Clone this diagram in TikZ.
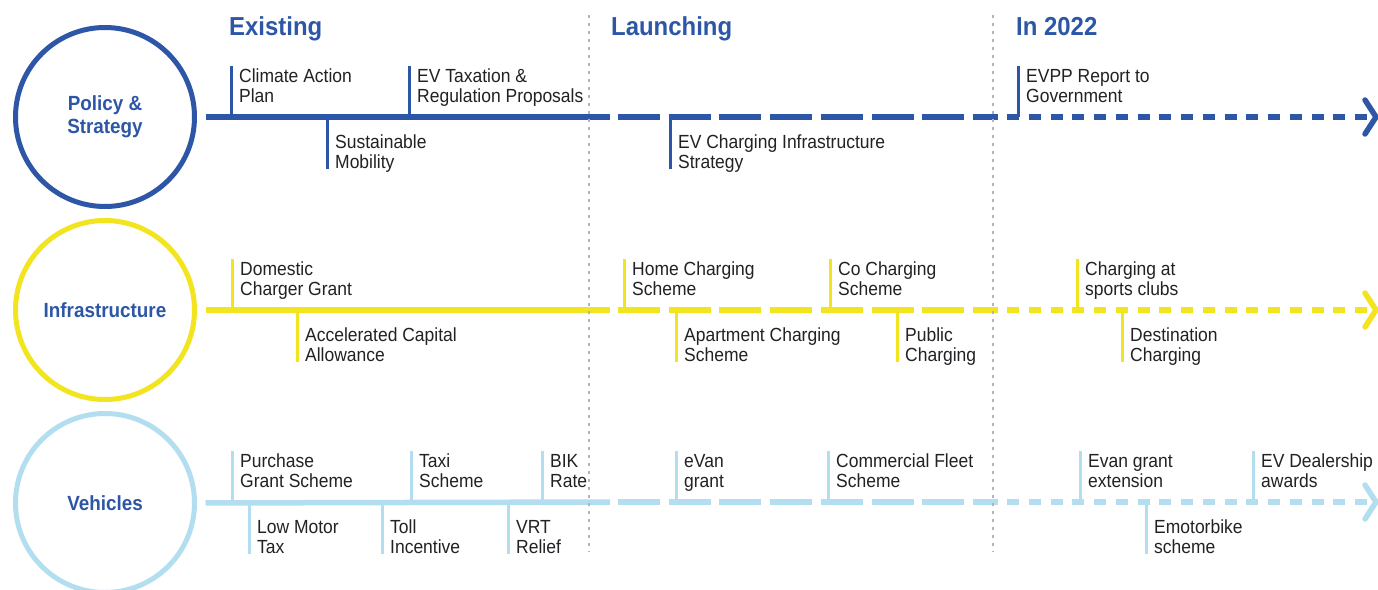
\documentclass[tikz,border=0pt]{standalone}
\usepackage{fontspec}
\setmainfont{Liberation Sans}[FakeStretch=0.92]
\definecolor{polblue}{RGB}{45,87,166}
\definecolor{infyel}{RGB}{242,228,30}
\definecolor{vehblue}{RGB}{179,222,240}
\definecolor{divgrey}{RGB}{176,180,190}
\definecolor{textcol}{RGB}{34,34,38}
\tikzset{
  circ/.style={circle, minimum size=179pt, inner sep=0pt, line width=5pt, align=center,
    font=\fontsize{20.5}{23}\selectfont\bfseries, text=polblue},
  headsty/.style={anchor=base west, inner sep=0pt, font=\fontsize{26}{28}\selectfont\bfseries, text=polblue},
  itemtext/.style={anchor=base west, align=left, inner sep=0pt, font=\fontsize{19}{20.8}\selectfont, text=textcol},
  ticksty/.style={line width=3pt},
  solidseg/.style={line width=5.5pt, shorten <=8.5pt},
  longdash/.style={line width=5.5pt, dash pattern=on 42pt off 8.7pt},
  shortdash/.style={line width=5.5pt, dash pattern=on 12pt off 9.75pt},
  chevron/.style={line width=5.5pt, line cap=round, line join=round},
  divider/.style={draw=divgrey, line width=2.5pt, dash pattern=on 2.5pt off 5.5pt}
}
% the base anchor of a two-line node lies on its last line
\newcommand{\tlup}[5]{%
  \coordinate (#1-on) at (#3,#4);
  \coordinate (#1-end) at (#3,#4-51);
  \draw[ticksty,draw=#2] (#1-on) -- (#1-end);
  \node[itemtext] (#1) at (#3+8,#4-14.2) {#5};
}
\newcommand{\tldown}[5]{%
  \coordinate (#1-on) at (#3,#4);
  \coordinate (#1-end) at (#3,#4+52);
  \draw[ticksty,draw=#2] (#1-on) -- (#1-end);
  \node[itemtext] (#1) at (#3+8,#4+51.8) {#5};
}
\newcommand{\tlrow}[3]{% name, colour, y
  \coordinate (#1-s1) at (610,#3);
  \coordinate (#1-s2) at (618,#3);
  \coordinate (#1-s3) at (998,#3);
  \coordinate (#1-s4) at (1007,#3);
  \coordinate (#1-s5) at (1367,#3);
  \coordinate (#1-a1) at (1365,#3-17);
  \coordinate (#1-a2) at (1376,#3);
  \coordinate (#1-a3) at (1365,#3+17);
  \draw[solidseg,draw=#2] (#1.east) -- (#1-s1);
  \draw[longdash,draw=#2] (#1-s2) -- (#1-s3);
  \draw[shortdash,draw=#2] (#1-s4) -- (#1-s5);
  \draw[chevron,draw=#2] (#1-a1) -- (#1-a2) -- (#1-a3);
}
\begin{document}
\begin{tikzpicture}[x=1pt,y=-1pt]
\useasboundingbox (0,0) rectangle (1378,589);
\clip (0,0) rectangle (1378,589);
\fill[white] (0,0) rectangle (1378,589);

% headings
\node[headsty] (hexist) at (229,35) {Existing};
\node[headsty] (hlaunch) at (611,35) {Launching};
\node[headsty] (h2022) at (1016,35) {In 2022};

% circles
\node[circ, draw=polblue] (policy) at (105,117) {Policy \&\\Strategy};
\node[circ, draw=infyel] (infra) at (105,310) {Infrastructure};
\node[circ, draw=vehblue] (vehicles) at (105,503) {Vehicles};

% timelines
\tlrow{policy}{polblue}{117}
\tlrow{infra}{infyel}{310}
\tlrow{vehicles}{vehblue}{502}

% policy items
\tlup{climate}{polblue}{231}{117}{Climate Action\\Plan}
\tlup{evtax}{polblue}{409}{117}{EV Taxation \&\\Regulation Proposals}
\tldown{sustain}{polblue}{327}{117}{Sustainable\\Mobility}
\tldown{evcis}{polblue}{670}{117}{EV Charging Infrastructure\\Strategy}
\tlup{evpp}{polblue}{1018}{117}{EVPP Report to\\Government}

% infrastructure items
\tlup{domestic}{infyel}{232}{310}{Domestic\\Charger Grant}
\tldown{aca}{infyel}{297}{310}{Accelerated Capital\\Allowance}
\tlup{home}{infyel}{624}{310}{Home Charging\\Scheme}
\tldown{apt}{infyel}{676}{310}{Apartment Charging\\Scheme}
\tlup{co}{infyel}{830}{310}{Co Charging\\Scheme}
\tldown{public}{infyel}{897}{310}{Public\\Charging}
\tlup{sports}{infyel}{1077}{310}{Charging at\\sports clubs}
\tldown{dest}{infyel}{1122}{310}{Destination\\Charging}

% vehicle items
\tlup{purchase}{vehblue}{232}{502}{Purchase\\Grant Scheme}
\tldown{lowmotor}{vehblue}{249}{502}{Low Motor\\Tax}
\tlup{taxi}{vehblue}{411}{502}{Taxi\\Scheme}
\tldown{toll}{vehblue}{382}{502}{Toll\\Incentive}
\tlup{bik}{vehblue}{542}{502}{BIK\\Rate}
\tldown{vrt}{vehblue}{508}{502}{VRT\\Relief}
\tlup{evan}{vehblue}{676}{502}{eVan\\grant}
\tlup{fleet}{vehblue}{828}{502}{Commercial Fleet\\Scheme}
\tlup{evanext}{vehblue}{1080}{502}{Evan grant\\extension}
\tldown{emoto}{vehblue}{1146}{502}{Emotorbike\\scheme}
\tlup{dealer}{vehblue}{1253}{502}{EV Dealership\\awards}

% dividers
\coordinate (d1top) at (589,15);
\coordinate (d1bot) at (589,552);
\coordinate (d2top) at (993,15);
\coordinate (d2bot) at (993,552);
\draw[divider] (d1top) -- (d1bot);
\draw[divider] (d2top) -- (d2bot);
\end{tikzpicture}
\end{document}
